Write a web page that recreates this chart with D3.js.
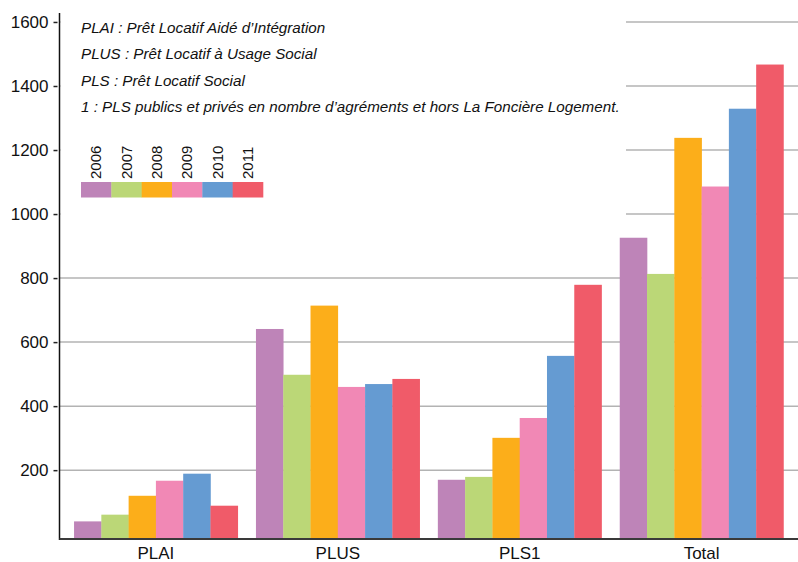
<!DOCTYPE html>
<html><head><meta charset="utf-8">
<script src="https://cdn.jsdelivr.net/npm/d3@7"></script>
<style>body{margin:0;background:#fff}svg{display:block}text{font-family:"Liberation Sans",Arial,sans-serif}</style>
</head><body><svg id="c" width="798" height="562"></svg>
<script>
const categories = ["PLAI", "PLUS", "PLS1", "Total"];
const years = ["2006", "2007", "2008", "2009", "2010", "2011"];
const colors = ["#BE84B8", "#BBD777", "#FCAE1A", "#F188B5", "#659BD2", "#F05B69"];
const v2006 = [40, 641, 170, 926];
const v2007 = [61, 498, 179, 813];
const v2008 = [120, 714, 301, 1238];
const v2009 = [167, 460, 363, 1086];
const v2010 = [189, 469, 557, 1329];
const v2011 = [89, 485, 779, 1467];
const seriesValues = [v2006, v2007, v2008, v2009, v2010, v2011];
const yTicks = [200, 400, 600, 800, 1000, 1200, 1400, 1600];
const notes = ["PLAI : Prêt Locatif Aidé d’Intégration", "PLUS : Prêt Locatif à Usage Social", "PLS : Prêt Locatif Social", "1 : PLS publics et privés en nombre d’agréments et hors La Foncière Logement."];

const svg = d3.select("#c");
const W = 798, axisX = 59.5, base = 539, plotTop = 13;
const y = d3.scaleLinear().domain([-15, 1628]).range([base, plotTop]);
const x0 = d3.scaleBand().domain(categories).range([axisX, W]).paddingInner(0.1).paddingOuter(0.08);
const x1 = d3.scaleBand().domain(years).range([0, x0.bandwidth()]);
const color = d3.scaleOrdinal().domain(years).range(colors);

// gridlines
svg.append("g").selectAll("line").data(yTicks).join("line")
  .attr("x1", axisX).attr("x2", W).attr("y1", d => y(d)).attr("y2", d => y(d))
  .attr("stroke", "#b3b3b3").attr("stroke-width", 1.5);

// white box behind notes
svg.append("rect").attr("x", axisX + 1).attr("y", 0).attr("width", 626 - axisX - 1).attr("height", 240).attr("fill", "#fff");

// bars
const rows = categories.map((c, i) => ({c, vals: years.map((yr, j) => ({yr, v: seriesValues[j][i]}))}));
svg.append("g").selectAll("g").data(rows).join("g")
  .attr("transform", d => `translate(${x0(d.c)},0)`)
  .selectAll("rect").data(d => d.vals).join("rect")
  .attr("x", d => x1(d.yr)).attr("width", x1.bandwidth() + 0.3)
  .attr("y", d => y(d.v)).attr("height", d => base - y(d.v))
  .attr("fill", d => color(d.yr));

// y axis
const yAxis = d3.axisLeft(y).tickValues(yTicks).tickSize(4).tickPadding(5).tickFormat(d3.format("d"));
const gy = svg.append("g").attr("transform", `translate(${axisX - 2},0)`).call(yAxis);
gy.select(".domain").remove();
gy.selectAll(".tick line").attr("stroke", "#222").attr("stroke-width", 1.5);
gy.selectAll(".tick text").attr("font-size", 17).attr("fill", "#111").attr("font-family", "Liberation Sans, Arial, sans-serif");
svg.append("line").attr("x1", axisX).attr("x2", axisX).attr("y1", plotTop).attr("y2", base + 1).attr("stroke", "#111").attr("stroke-width", 1.5);

// x axis
const xAxis = d3.axisBottom(x0).tickSize(0).tickPadding(8);
const gx = svg.append("g").attr("transform", `translate(0,${base})`).call(xAxis);
gx.select(".domain").remove();
gx.selectAll(".tick text").attr("font-size", 17).attr("fill", "#111").attr("font-family", "Liberation Sans, Arial, sans-serif");
svg.append("line").attr("x1", axisX).attr("x2", W).attr("y1", base).attr("y2", base).attr("stroke", "#3a3a3a").attr("stroke-width", 2);

// notes
svg.append("g").selectAll("text").data(notes).join("text")
  .attr("x", 81).attr("y", (d, i) => 32.5 + i * 26.5)
  .attr("font-size", 15.2).attr("font-style", "italic").attr("fill", "#111").text(d => d);

// legend
const lx = d3.scaleBand().domain(years).range([81, 263]);
const lg = svg.append("g");
lg.selectAll("rect").data(years).join("rect")
  .attr("x", d => lx(d)).attr("y", 182).attr("width", lx.bandwidth() + 0.3).attr("height", 15.5)
  .attr("fill", d => color(d));
lg.selectAll("text").data(years).join("text")
  .attr("transform", d => `translate(${lx(d) + lx.bandwidth() / 2 + 5},179) rotate(-90)`)
  .attr("font-size", 15).attr("fill", "#111").text(d => d);
</script></body></html>
